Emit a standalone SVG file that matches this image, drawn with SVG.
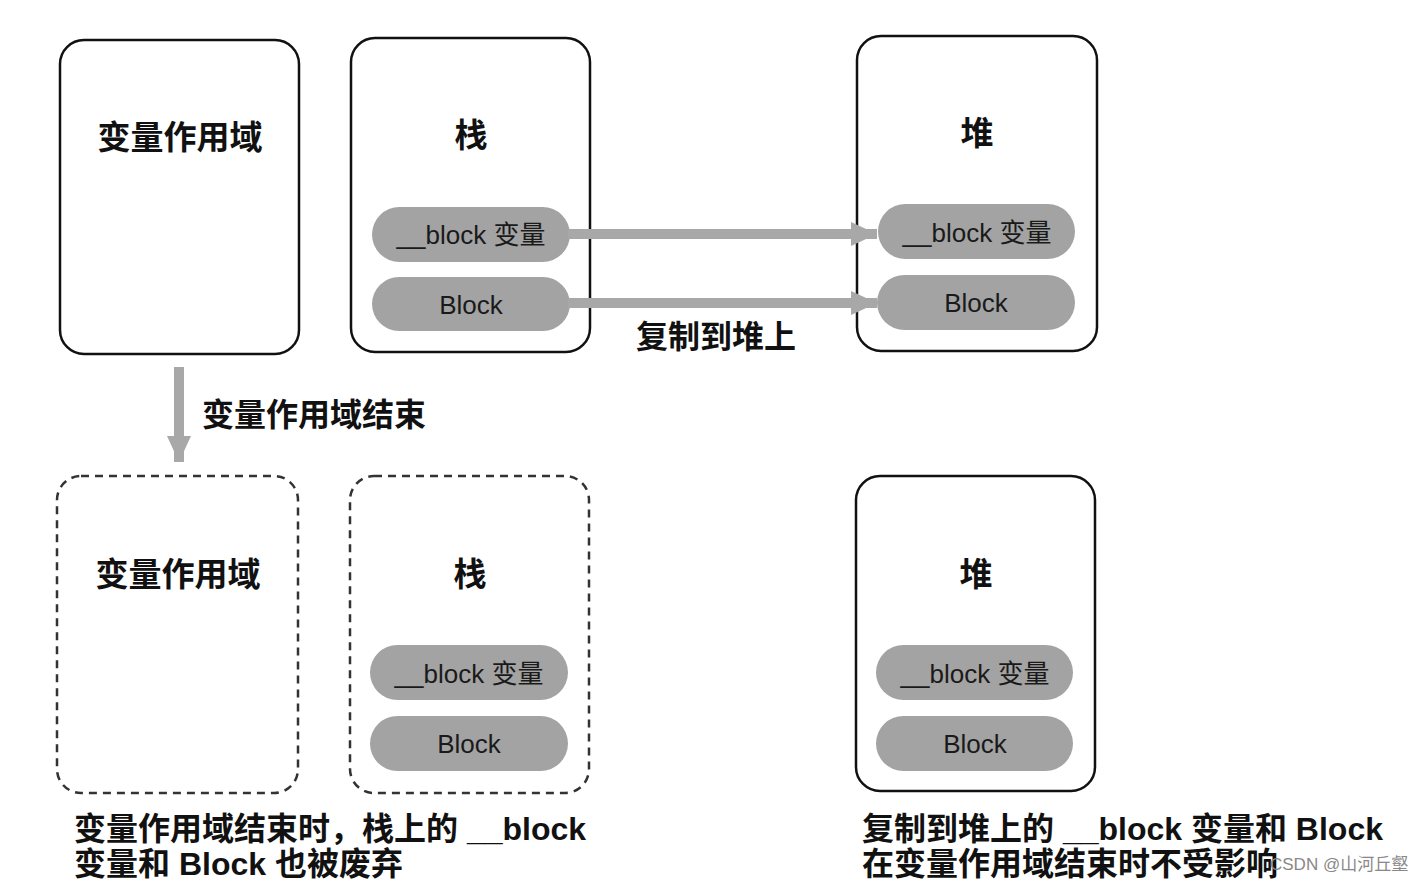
<svg xmlns="http://www.w3.org/2000/svg" width="1422" height="882" viewBox="0 0 1422 882">
<style>
.box{fill:#fff;stroke:#111;stroke-width:2.5}
.dash{fill:#fff;stroke:#333;stroke-width:2.5;stroke-dasharray:8 6}
.pill{fill:#a3a3a3}
.t{font-family:"Liberation Sans","Noto Sans CJK SC",sans-serif;fill:#111}
.title{font-size:33px;font-weight:bold;text-anchor:middle}
.pt{font-size:26px;text-anchor:middle;fill:#1a1a1a}
.lab{font-size:32px;font-weight:bold}
.conn{stroke:#a8a8a8;stroke-width:10;fill:none}
</style>
<defs>
<marker id="ah" markerWidth="4" markerHeight="4" refX="2.6" refY="2" orient="auto" markerUnits="strokeWidth">
<path d="M0,0.8 L2.6,2 L0,3.2 Z" fill="#a8a8a8"/>
</marker>
</defs>
<rect width="1422" height="882" fill="#fff"/>
<g id="scope-top">
<rect class="box" x="60" y="40" width="239" height="314" rx="24"/>
<text class="t title" x="180" y="149">变量作用域</text>
</g>
<g id="stack-top">
<rect class="box" x="351" y="38" width="239" height="314" rx="24" style="fill:none"/>
<text class="t title" x="471" y="147">栈</text>
<rect class="pill" x="372" y="207" width="198" height="55" rx="27.5"/>
<text class="t pt" x="471" y="244">__block 变量</text>
<rect class="pill" x="372" y="277" width="198" height="54" rx="27"/>
<text class="t pt" x="471" y="314">Block</text>
</g>
<g id="heap-top">
<rect class="box" x="857" y="36" width="240" height="315" rx="24" style="fill:none"/>
<text class="t title" x="977" y="145">堆</text>
<rect class="pill" x="878" y="204" width="197" height="55" rx="27.5"/>
<text class="t pt" x="977" y="242">__block 变量</text>
<rect class="pill" x="877" y="275" width="198" height="55" rx="27.5"/>
<text class="t pt" x="976" y="312">Block</text>
</g>
<g id="scope-bottom">
<rect class="dash" x="57" y="476" width="241" height="317" rx="24"/>
<text class="t title" x="178" y="586">变量作用域</text>
</g>
<g id="stack-bottom">
<rect class="dash" x="350" y="476" width="239" height="317" rx="24"/>
<text class="t title" x="470" y="586">栈</text>
<rect class="pill" x="370" y="645" width="198" height="55" rx="27.5"/>
<text class="t pt" x="469" y="683">__block 变量</text>
<rect class="pill" x="370" y="716" width="198" height="55" rx="27.5"/>
<text class="t pt" x="469" y="753">Block</text>
</g>
<g id="heap-bottom">
<rect class="box" x="856" y="476" width="239" height="315" rx="24"/>
<text class="t title" x="976" y="586">堆</text>
<rect class="pill" x="876" y="645" width="197" height="55" rx="27.5"/>
<text class="t pt" x="975" y="683">__block 变量</text>
<rect class="pill" x="876" y="716" width="197" height="55" rx="27.5"/>
<text class="t pt" x="975" y="753">Block</text>
</g>
<g id="connectors">
<line class="conn" x1="568" y1="234" x2="877" y2="234" marker-end="url(#ah)"/>
<line class="conn" x1="568" y1="303" x2="877" y2="303" marker-end="url(#ah)"/>
<line class="conn" x1="179" y1="367" x2="179" y2="462" stroke-width="12" marker-end="url(#ah)"/>
</g>
<g id="labels">
<text class="t lab" x="636" y="348">复制到堆上</text>
<text class="t lab" x="202" y="426">变量作用域结束</text>
<text class="t lab" x="74" y="840">变量作用域结束时，栈上的 __block</text>
<text class="t lab" x="74" y="875">变量和 Block 也被废弃</text>
<text class="t lab" x="862" y="840">复制到堆上的 __block 变量和 Block</text>
<text class="t lab" x="862" y="875">在变量作用域结束时不受影响</text>
<text class="t" x="1270" y="870" font-size="17" style="fill:#888">CSDN @山河丘壑</text>
</g>
</svg>
